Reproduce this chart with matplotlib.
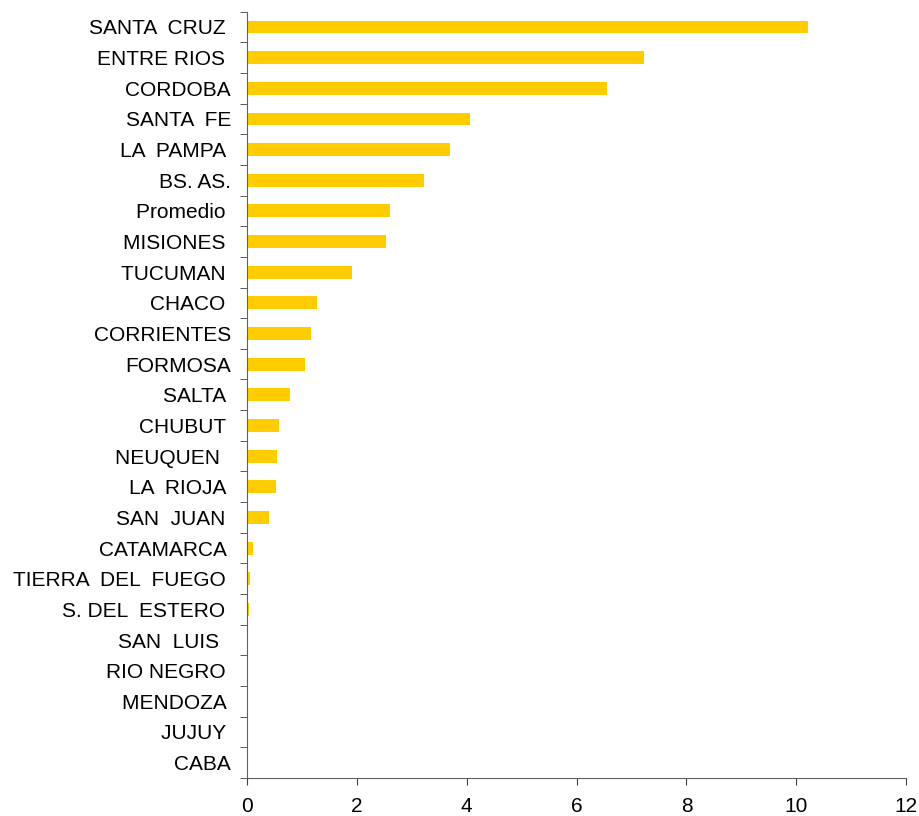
import numpy as np
import matplotlib
matplotlib.use("Agg")
import matplotlib.pyplot as plt

provincias = ["SANTA  CRUZ ", "ENTRE RIOS ", "CORDOBA", "SANTA  FE", "LA  PAMPA ",
              "BS. AS.", "Promedio ", "MISIONES ", "TUCUMAN ", "CHACO ", "CORRIENTES",
              "FORMOSA", "SALTA ", "CHUBUT ", "NEUQUEN  ", "LA  RIOJA ", "SAN  JUAN ",
              "CATAMARCA ", "TIERRA  DEL  FUEGO ", "S. DEL  ESTERO ", "SAN  LUIS  ",
              "RIO NEGRO ", "MENDOZA ", "JUJUY ", "CABA"]
valores = [10.22, 7.23, 6.56, 4.06, 3.70, 3.22, 2.60, 2.53, 1.91, 1.27, 1.17,
           1.06, 0.78, 0.58, 0.55, 0.53, 0.40, 0.11, 0.05, 0.03, 0, 0, 0, 0, 0]

plt.rcParams['font.family'] = ['Liberation Sans', 'DejaVu Sans']

fig = plt.figure(figsize=(9.2, 8.16), dpi=100)
ax = fig.add_axes([0.2685, 0.0466, 0.7165, 0.9391])

n = len(provincias)
y = np.arange(n)
ax.barh(y, valores, height=0.42, color="#FFCC00")
ax.set_ylim(n - 0.5, -0.5)
ax.set_xlim(0, 12)
ax.set_xticks(range(0, 13, 2))

ax.set_yticks(y)
ax.set_yticklabels(provincias)
ax.set_yticks(np.arange(-0.5, n, 1), minor=True)
ax.tick_params(axis="y", which="major", length=0, pad=11.5, labelsize=15)
ax.tick_params(axis="y", which="minor", length=5, color="#404040")
ax.tick_params(axis="x", length=5, color="#404040", labelsize=15, pad=9)

for s in ["top", "right"]:
    ax.spines[s].set_visible(False)
for s in ["left", "bottom"]:
    ax.spines[s].set_color("#606060")

fig.savefig("out.png", dpi=100)
